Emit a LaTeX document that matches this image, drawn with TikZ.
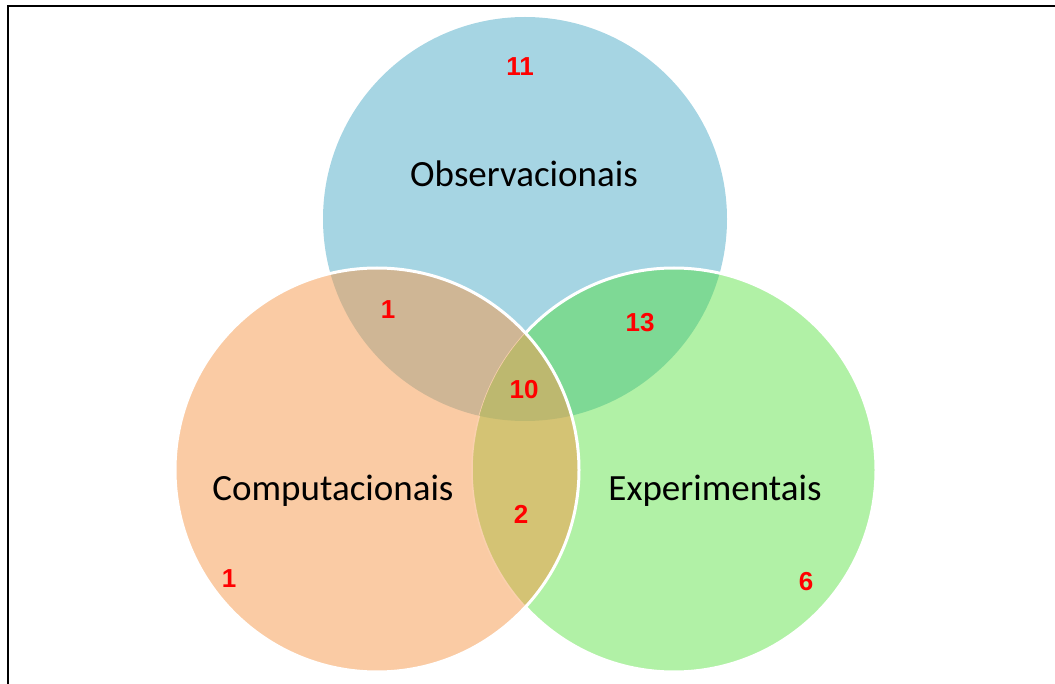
\documentclass[tikz,border=0pt]{standalone}
\usepackage{fontspec}
\setmainfont{Carlito}
\newfontfamily\countfont{Liberation Sans}
\definecolor{obsblue}{RGB}{166,213,227}
\definecolor{comporange}{RGB}{250,203,164}
\definecolor{expgreen}{RGB}{177,241,166}
\definecolor{obscomp}{RGB}{207,182,149}
\definecolor{obsexp}{RGB}{126,217,149}
\definecolor{compexp}{RGB}{212,195,116}
\definecolor{allthree}{RGB}{189,184,111}

\begin{document}
\begin{tikzpicture}[x=1pt,y=-1pt,
  setname/.style={font=\fontsize{37}{37}\selectfont, text=black, anchor=base},
  count/.style={font=\countfont\bfseries\fontsize{26}{26}\selectfont, text=red, anchor=base},
  rim/.style={draw=white, line width=3pt}]
\useasboundingbox (0,0) rectangle (1055,684);
\def\rad{202pt}
\coordinate (O) at (525,219); % observacionais
\coordinate (C) at (377,470); % computacionais
\coordinate (E) at (674,470); % experimentais

% frame
\draw[line width=2.6pt] (8,690) -- (8,6) -- (1060,6);

% circles and overlaps
\fill[obsblue] (O) circle (\rad);
\fill[expgreen] (E) circle (\rad);
\begin{scope}
  \clip (E) circle (\rad);
  \fill[obsexp] (O) circle (\rad);
\end{scope}
\draw[rim] (E) circle (\rad);
\fill[comporange] (C) circle (\rad);
\begin{scope}
  \clip (C) circle (\rad);
  \fill[obscomp] (O) circle (\rad);
  \fill[compexp] (E) circle (\rad);
  \draw[comporange!90!white, line width=1.5pt] (E) circle (\rad);
  \clip (E) circle (\rad);
  \fill[allthree] (O) circle (\rad);
\end{scope}
\draw[rim] (C) circle (\rad);

% set names
\node[setname] (obs) at (524,187) {Observacionais};
\node[setname] (comp) at (333,500) {Computacionais};
\node[setname] (exp) at (715,500) {Experimentais};

% counts
\node[count] (nobs) at (520,76) {11};
\node[count] (nobscomp) at (388,319) {1};
\node[count] (nobsexp) at (640,332) {13};
\node[count] (nall) at (524,399) {10};
\node[count] (ncompexp) at (521,523) {2};
\node[count] (ncomp) at (229,587) {1};
\node[count] (nexp) at (806,590) {6};
\end{tikzpicture}
\end{document}
